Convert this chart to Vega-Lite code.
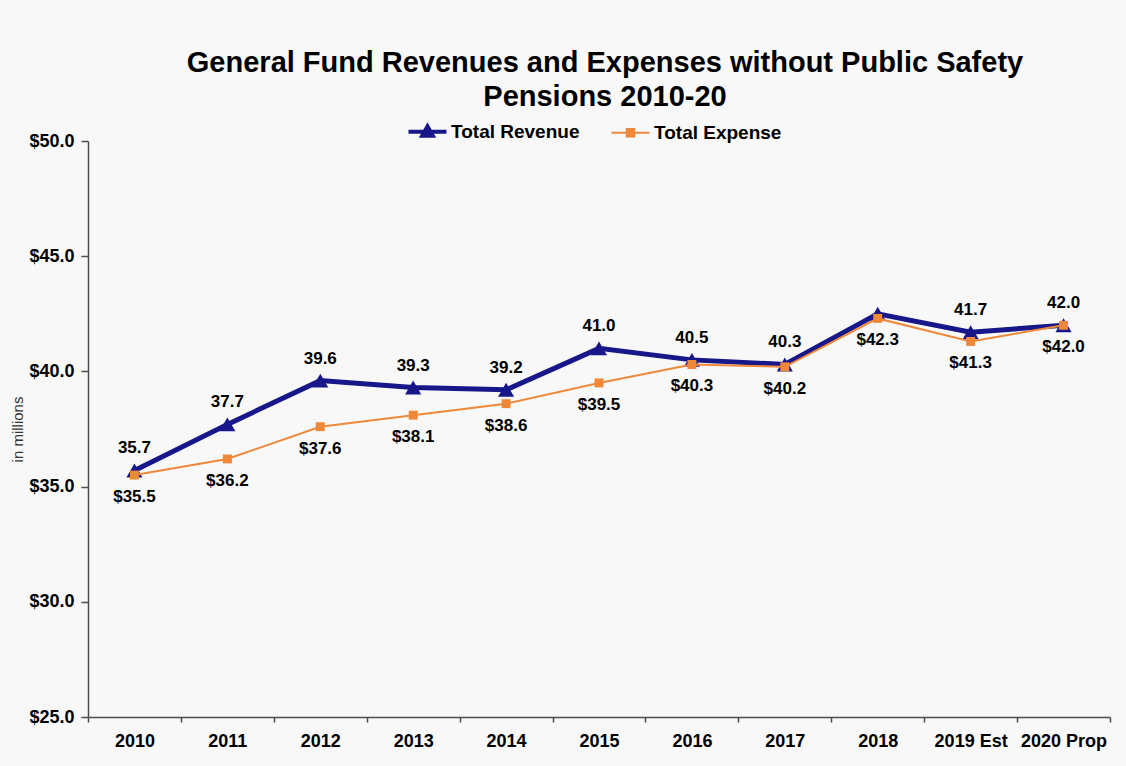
{
  "$schema": "https://vega.github.io/schema/vega-lite/v6.json",
  "width": 1022,
  "height": 576,
  "autosize": {"type": "none"},
  "padding": {"left": 88, "top": 141, "right": 16, "bottom": 49},
  "background": "#f8f8f8",
  "config": {
    "view": {"stroke": null},
    "font": "Liberation Sans"
  },
  "title": {
    "text": ["General Fund Revenues and Expenses without Public Safety", "Pensions 2010-20"],
    "font": "Liberation Sans",
    "fontSize": 29,
    "fontWeight": "bold",
    "color": "#000000",
    "lineHeight": 34,
    "offset": 10,
    "anchor": "middle",
    "dx": 6
  },
  "data": {
    "values": [
      {"year": "2010", "series": "Total Revenue", "value": 35.7, "label": "35.7"},
      {"year": "2011", "series": "Total Revenue", "value": 37.7, "label": "37.7"},
      {"year": "2012", "series": "Total Revenue", "value": 39.6, "label": "39.6"},
      {"year": "2013", "series": "Total Revenue", "value": 39.3, "label": "39.3"},
      {"year": "2014", "series": "Total Revenue", "value": 39.2, "label": "39.2"},
      {"year": "2015", "series": "Total Revenue", "value": 41.0, "label": "41.0"},
      {"year": "2016", "series": "Total Revenue", "value": 40.5, "label": "40.5"},
      {"year": "2017", "series": "Total Revenue", "value": 40.3, "label": "40.3"},
      {"year": "2018", "series": "Total Revenue", "value": 42.5, "label": ""},
      {"year": "2019 Est", "series": "Total Revenue", "value": 41.7, "label": "41.7"},
      {"year": "2020 Prop", "series": "Total Revenue", "value": 42.0, "label": "42.0"},
      {"year": "2010", "series": "Total Expense", "value": 35.5, "label": "$35.5"},
      {"year": "2011", "series": "Total Expense", "value": 36.2, "label": "$36.2"},
      {"year": "2012", "series": "Total Expense", "value": 37.6, "label": "$37.6"},
      {"year": "2013", "series": "Total Expense", "value": 38.1, "label": "$38.1"},
      {"year": "2014", "series": "Total Expense", "value": 38.6, "label": "$38.6"},
      {"year": "2015", "series": "Total Expense", "value": 39.5, "label": "$39.5"},
      {"year": "2016", "series": "Total Expense", "value": 40.3, "label": "$40.3"},
      {"year": "2017", "series": "Total Expense", "value": 40.2, "label": "$40.2"},
      {"year": "2018", "series": "Total Expense", "value": 42.3, "label": "$42.3"},
      {"year": "2019 Est", "series": "Total Expense", "value": 41.3, "label": "$41.3"},
      {"year": "2020 Prop", "series": "Total Expense", "value": 42.0, "label": "$42.0"}
    ]
  },
  "encoding": {
    "x": {
      "field": "year",
      "type": "ordinal",
      "sort": null,
      "scale": {"type": "band", "paddingInner": 0, "paddingOuter": 0},
      "axis": {
        "title": null,
        "labelAngle": 0,
        "tickBand": "extent",
        "labelFont": "Liberation Sans",
        "labelFontSize": 18,
        "labelFontWeight": "bold",
        "labelColor": "#000000",
        "labelPadding": 10,
        "tickSize": 5,
        "tickColor": "#4d4d4d",
        "domainColor": "#4d4d4d",
        "domainWidth": 1.5,
        "tickWidth": 1.5,
        "grid": false
      }
    },
    "y": {
      "field": "value",
      "type": "quantitative",
      "scale": {"domain": [25, 50], "nice": false, "zero": false},
      "axis": {
        "title": "in millions",
        "titleFont": "Liberation Sans",
        "titleFontWeight": "normal",
        "titleFontSize": 15,
        "titleColor": "#333333",
        "titlePadding": 3,
        "values": [25, 30, 35, 40, 45, 50],
        "format": "$.1f",
        "labelFont": "Liberation Sans",
        "labelFontSize": 18,
        "labelFontWeight": "bold",
        "labelColor": "#000000",
        "labelPadding": 7,
        "tickSize": 7,
        "tickColor": "#4d4d4d",
        "domainColor": "#4d4d4d",
        "domainWidth": 1.5,
        "tickWidth": 1.5,
        "grid": false
      }
    }
  },
  "layer": [
    {
      "transform": [{"filter": "datum.series === 'Total Revenue'"}],
      "mark": {"type": "line", "strokeWidth": 5},
      "encoding": {
        "color": {
          "field": "series",
          "type": "nominal",
          "scale": {"domain": ["Total Revenue", "Total Expense"], "range": ["#17178a", "#f0883a"]},
          "legend": {
            "orient": "none",
            "legendX": 330,
            "legendY": -19,
            "direction": "horizontal",
            "title": null,
            "padding": 0,
            "labelFont": "Liberation Sans",
            "labelFontSize": 19,
            "labelFontWeight": "bold",
            "labelColor": "#000000",
            "labelOffset": 14,
            "columnPadding": 27,
            "symbolSize": 1444,
            "encode": {
              "symbols": {
                "update": {
                  "shape": {"signal": "datum.value === 'Total Revenue' ? 'M-1,0H1M-0.28,0.22L0,-0.28L0.28,0.22Z' : 'M-1,0H1M-0.2,-0.2H0.2V0.2H-0.2Z'"},
                  "fill": {"signal": "scale('color', datum.value)"},
                  "stroke": {"signal": "scale('color', datum.value)"},
                  "strokeWidth": {"signal": "datum.value === 'Total Revenue' ? 4 : 2"},
                  "opacity": {"value": 1},
                  "fillOpacity": {"value": 1},
                  "strokeOpacity": {"value": 1}
                }
              }
            }
          }
        }
      }
    },
    {
      "transform": [{"filter": "datum.series === 'Total Revenue'"}],
      "mark": {"type": "point", "shape": "triangle-up", "filled": true, "opacity": 1, "size": 260, "color": "#17178a"}
    },
    {
      "transform": [{"filter": "datum.series === 'Total Expense'"}],
      "mark": {"type": "line", "strokeWidth": 2, "color": "#f0883a"},
      "encoding": {}
    },
    {
      "transform": [{"filter": "datum.series === 'Total Expense'"}],
      "mark": {"type": "point", "shape": "square", "filled": true, "opacity": 1, "size": 80, "color": "#f0883a"}
    },
    {
      "transform": [{"filter": "datum.series === 'Total Revenue'"}],
      "mark": {"type": "text", "dy": -22, "font": "Liberation Sans", "fontSize": 17, "fontWeight": "bold", "color": "#000000"},
      "encoding": {"text": {"field": "label"}}
    },
    {
      "transform": [{"filter": "datum.series === 'Total Expense'"}],
      "mark": {"type": "text", "dy": 22, "font": "Liberation Sans", "fontSize": 17, "fontWeight": "bold", "color": "#000000"},
      "encoding": {"text": {"field": "label"}}
    }
  ]
}
